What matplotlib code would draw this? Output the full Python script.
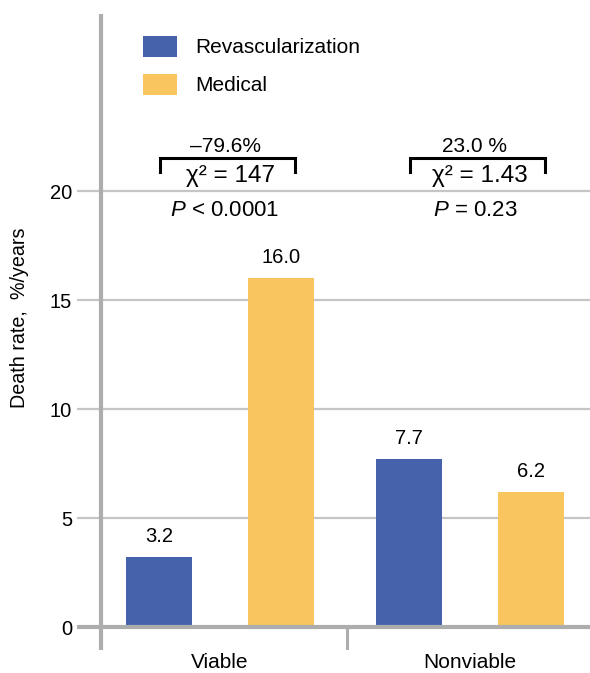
import matplotlib
matplotlib.use("Agg")
import matplotlib.pyplot as plt
import numpy as np
from matplotlib.patches import Patch

plt.rcParams['font.family'] = ['Liberation Sans', 'DejaVu Sans']
plt.rcParams['mathtext.fontset'] = 'custom'
plt.rcParams['mathtext.rm'] = 'Liberation Sans'
plt.rcParams['mathtext.it'] = 'Liberation Sans:italic'
plt.rcParams['mathtext.bf'] = 'Liberation Sans:bold'

# Data
categories = ['Viable', 'Nonviable']
series_names = ['Revascularization', 'Medical']
revasc = [3.2, 7.7]
medical = [16.0, 6.2]
pct_change = ['\u201379.6%', '23.0 %']
chi2 = ['147', '1.43']
p_text = [r'$P$ < 0.0001', r'$P$ = 0.23']
yticks = [0, 5, 10, 15, 20]

BLUE = '#4562AB'
YELLOW = '#F9C55E'
GRID = '#c6c6c6'
AXIS = '#adadad'

W, H = 590, 673
fig = plt.figure(figsize=(W / 100, H / 100), dpi=100)
ax = fig.add_axes([77 / W, (H - 650) / H, 1 - 77 / W, (650 - 14) / H])

xmin, xmax = -0.572, 1.48
ymin, ymax = -1.055, 28.12
ax.set_xlim(xmin, xmax)
ax.set_ylim(ymin, ymax)
for s in ax.spines.values():
    s.set_visible(False)

x = np.arange(len(categories))
off, bw = 0.245, 0.265

# grid lines (with stubs left of the axis acting as ticks)
for yv in yticks[1:]:
    ax.hlines(yv, xmin, xmax, color=GRID, lw=1.6, zorder=1)
# axes lines
ax.hlines(0, xmin, xmax, color=AXIS, lw=3.0, zorder=4)
ax.vlines(-0.476, ymin, ymax, color=AXIS, lw=3.0, zorder=4)
ax.vlines(0.508, ymin, 0, color=AXIS, lw=2.2, zorder=4)

ax.bar(x - off, revasc, bw, color=BLUE, zorder=3, label=series_names[0])
ax.bar(x + off, medical, bw, color=YELLOW, zorder=3, label=series_names[1])

for xi, v in zip(x - off, revasc):
    ax.text(xi, v + 0.5, f'{v:.1f}', ha='center', va='bottom', fontsize=14.5)
for xi, v in zip(x + off, medical):
    ax.text(xi, v + 0.5, f'{v:.1f}', ha='center', va='bottom', fontsize=14.5)

ax.set_yticks(yticks)
ax.set_yticklabels([str(t) for t in yticks], fontsize=14.5)
ax.set_xticks(x)
ax.set_xticklabels(categories, fontsize=15)
ax.tick_params(axis='y', length=0, pad=3.5)
ax.tick_params(axis='x', length=0, pad=2)

fig.text(20 / W, 1 - 318 / H, 'Death rate,  %/years', rotation=90,
         ha='center', va='center', fontsize=14.2)

# comparison brackets
for i in range(len(categories)):
    c = x[i] + 0.03
    bx0, bx1 = c - 0.27, c + 0.27
    ax.plot([bx0, bx0, bx1, bx1], [20.89, 21.53, 21.53, 20.89],
            color='black', lw=2.2, solid_joinstyle='miter', zorder=5)
    ax.text(c - 0.01, 21.62, pct_change[i], ha='center', va='bottom', fontsize=15)
    ax.text(c + 0.01, 20.7, '\u03c7\u00b2 = ' + chi2[i], ha='center',
            va='center', fontsize=17.5)
    ax.text(c - 0.01, 19.1, p_text[i], ha='center', va='center', fontsize=16)

handles = [Patch(facecolor=BLUE, edgecolor='none'),
           Patch(facecolor=YELLOW, edgecolor='none')]
fig.legend(handles, series_names, loc='upper left',
           bbox_to_anchor=(143 / W, 1 - 36 / H), frameon=False,
           fontsize=15, handlelength=1.65, handleheight=1.15,
           handletextpad=0.85, labelspacing=0.8, borderpad=0,
           borderaxespad=0)

fig.savefig('out.png', dpi=100)
